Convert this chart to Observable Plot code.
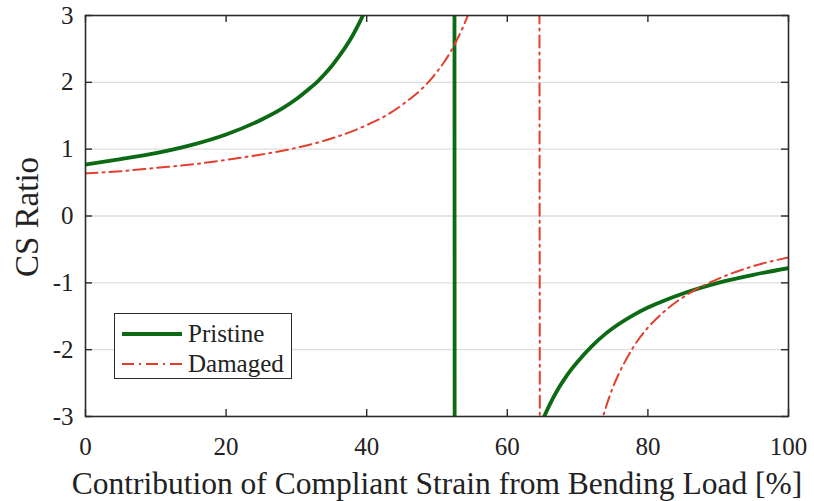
<!DOCTYPE html>
<html>
<head>
<meta charset="utf-8">
<script src="https://cdn.jsdelivr.net/npm/d3@7"></script>
<script src="https://cdn.jsdelivr.net/npm/@observablehq/plot@0.6"></script>
<style>
  body { margin: 0; background: #fff; }
  #wrap { position: relative; width: 814px; height: 501px; }
  .legend {
    position: absolute; left: 114px; top: 313px; width: 176px; height: 64px;
    border: 1.5px solid #2b2b2b; background: #fff;
    font-family: "Liberation Serif", "Times New Roman", serif; font-size: 25px; color: #222;
  }
  .legend .row { position: absolute; left: 0; height: 30px; width: 176px; }
  .legend svg { position: absolute; left: 7px; top: 0; }
  .legend span { position: absolute; left: 73px; top: 0; line-height: 30px; }
  .ylabel {
    position: absolute; left: 27px; top: 217px;
    transform: translate(-50%, -50%) rotate(-90deg);
    font-family: "Liberation Serif", "Times New Roman", serif; font-size: 33px; line-height: 1;
    white-space: nowrap; color: #222;
  }
</style>
</head>
<body>
<div id="wrap"></div>
<script>
// Axis ticks and gridlines
const xTicks = [0, 20, 40, 60, 80, 100];
const yTicks = [-3, -2, -1, 0, 1, 2, 3];
const gridLevels = [-2, -1, 0, 1, 2];
const xLabel = "Contribution of Compliant Strain from Bending Load [%]";
const yLabel = "CS Ratio";
const seriesNames = ["Pristine", "Damaged"];

// Pristine: CS ratio vs. bending contribution (pole near 52.5 %)
const pristineX = [0, 5, 10, 15, 20, 25, 28, 30, 32, 33, 34, 35, 36, 37, 38, 39, 40, 42, 45, 48, 50, 52,
                   53, 55, 60, 63, 65, 66, 67, 68, 69, 70, 72, 74, 75, 78, 80, 82, 85, 90, 95, 100];
const pristineY = [0.77, 0.85, 0.94, 1.06, 1.22, 1.44, 1.61, 1.75, 1.92, 2.01, 2.12, 2.24, 2.38, 2.53, 2.70, 2.90, 3.13, 3.71, 5.19, 8.62, 15.5, 77,
                   -77, -15.4, -5.12, -3.65, -3.06, -2.83, -2.63, -2.46, -2.31, -2.18, -1.95, -1.76, -1.68, -1.48, -1.37, -1.28, -1.16, -1.00, -0.88, -0.78];

// Damaged: CS ratio vs. bending contribution (pole near 64.6 %)
const damagedX = [0, 5, 10, 15, 20, 25, 30, 35, 38, 40, 42, 43, 45, 46, 47, 48, 49, 50, 51, 52, 53, 54, 55, 57, 60, 62, 64,
                  65.2, 67, 70, 72, 73.5, 74, 75, 76, 77, 78, 80, 82, 83, 86, 90, 95, 100];
const damagedY = [0.64, 0.67, 0.72, 0.77, 0.84, 0.92, 1.02, 1.16, 1.27, 1.36, 1.46, 1.52, 1.66, 1.74, 1.82, 1.92, 2.03, 2.16, 2.30, 2.47, 2.67, 2.90, 3.18, 3.97, 6.44, 11.2, 48,
                  -48, -11.8, -5.13, -3.69, -3.04, -2.87, -2.57, -2.33, -2.13, -1.95, -1.67, -1.46, -1.37, -1.15, -0.94, -0.75, -0.62];

const pristine = pristineX.map((x, i) => ({x, y: pristineY[i]}));
const damaged = damagedX.map((x, i) => ({x, y: damagedY[i]}));

const W = 814, H = 501, mL = 85, mT = 15, mR = 26, mB = 85;
const plotW = W - mL - mR, plotH = H - mT - mB;
const ink = "#2b2b2b";
const green = "#0d6a14", red = "#e0412c";
const dash = "12,5,2,5";
const fmt = d => String(d);

const chart = Plot.plot({
  width: W, height: H,
  marginLeft: mL, marginTop: mT, marginRight: mR, marginBottom: mB,
  style: {fontFamily: "'Liberation Serif', 'Times New Roman', serif", fontSize: "25px", color: "#222", background: "#fff"},
  x: {domain: [0, 100]},
  y: {domain: [-3, 3]},
  marks: [
    Plot.gridY(gridLevels, {stroke: "#dedede", strokeOpacity: 1, strokeWidth: 1.4}),
    Plot.line(pristine, {x: "x", y: "y", stroke: green, strokeWidth: 3.8, curve: "monotone-x", clip: true}),
    Plot.line(damaged, {x: "x", y: "y", stroke: red, strokeWidth: 2, strokeDasharray: dash, curve: "monotone-x", clip: true}),
    Plot.frame({stroke: ink, strokeWidth: 1.6}),
    // inward tick marks on all four sides
    Plot.tickX(xTicks, {x: d => d, insetTop: plotH - 7, stroke: ink, strokeWidth: 1.4}),
    Plot.tickX(xTicks, {x: d => d, insetBottom: plotH - 7, stroke: ink, strokeWidth: 1.4}),
    Plot.tickY(yTicks, {y: d => d, insetRight: plotW - 7, stroke: ink, strokeWidth: 1.4}),
    Plot.tickY(yTicks, {y: d => d, insetLeft: plotW - 7, stroke: ink, strokeWidth: 1.4}),
    Plot.axisX(xTicks, {tickSize: 0, tickPadding: 21, fontSize: 25, tickFormat: fmt, label: null}),
    Plot.axisY(yTicks, {tickSize: 0, tickPadding: 12, fontSize: 25, tickFormat: fmt, label: null}),
    Plot.text([xLabel], {text: d => d, frameAnchor: "bottom", dy: 67, fontSize: 31.5, lineAnchor: "middle", fill: "#222"})
  ]
});

const wrap = document.getElementById("wrap");
wrap.appendChild(chart);

// Rotated y-axis title
const yl = document.createElement("div");
yl.className = "ylabel";
yl.textContent = yLabel;
wrap.appendChild(yl);

// Legend box drawn over the lower-left of the plot area
const legend = document.createElement("div");
legend.className = "legend";
const styles = [
  {stroke: green, width: 3.8, dash: null},
  {stroke: red, width: 2, dash: dash}
];
seriesNames.forEach((name, i) => {
  const row = document.createElement("div");
  row.className = "row";
  row.style.top = (5 + i * 30) + "px";
  const s = styles[i];
  row.innerHTML =
    `<svg width="62" height="30"><line x1="0" x2="60" y1="15" y2="15" stroke="${s.stroke}" stroke-width="${s.width}"` +
    (s.dash ? ` stroke-dasharray="${s.dash}"` : "") + `/></svg><span>${name}</span>`;
  legend.appendChild(row);
});
wrap.appendChild(legend);
</script>
</body>
</html>
